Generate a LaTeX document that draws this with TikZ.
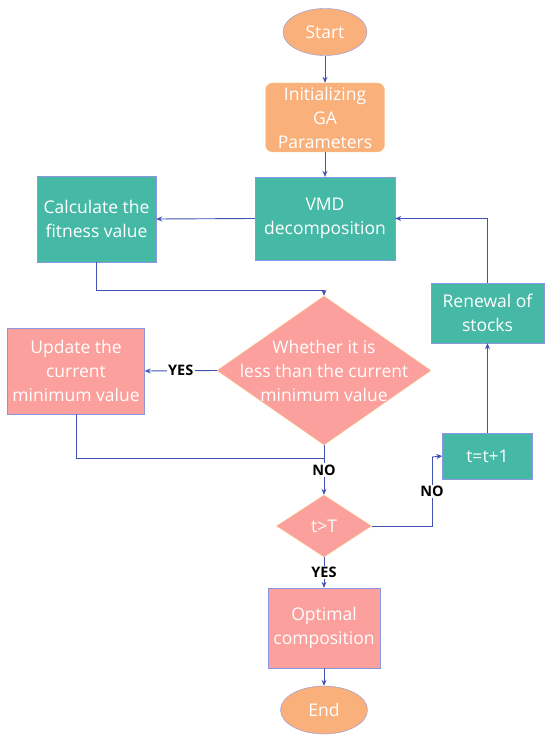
\documentclass[tikz,border=0pt]{standalone}
\usepackage{fontspec}
\setmainfont{Open Sans}
\usetikzlibrary{shapes.geometric,arrows.meta}
\definecolor{gaorange}{RGB}{249,176,122}
\definecolor{gateal}{RGB}{69,185,166}
\definecolor{gapink}{RGB}{251,160,156}
\definecolor{flowline}{RGB}{66,82,178}
\definecolor{boxedge}{RGB}{140,150,225}
\definecolor{warmedge}{RGB}{250,205,140}
\newcommand{\boxfont}{\fontsize{17.5}{24}\selectfont}

\begin{document}
\begin{tikzpicture}[x=1pt, y=-1pt,
  line/.style={draw=flowline, line width=0.9pt},
  arr/.style={line, -{Stealth[length=6pt,width=5pt]}},
  term/.style={ellipse, draw=boxedge, fill=gaorange, text=white, font=\boxfont, inner sep=0pt},
  initbox/.style={rectangle, rounded corners=7pt, draw=warmedge, fill=gaorange, text=white, align=center, font=\boxfont, inner sep=0pt},
  tealbox/.style={rectangle, draw=boxedge, fill=gateal, text=white, align=center, font=\boxfont, inner sep=0pt},
  pinkbox/.style={rectangle, draw=boxedge, fill=gapink, text=white, align=center, font=\boxfont, inner sep=0pt},
  decision/.style={diamond, draw=warmedge, fill=gapink, inner sep=0pt},
  inside/.style={text=white, align=center, font=\boxfont},
  tag/.style={fill=white, inner sep=1.5pt, font=\fontsize{14.5}{16}\selectfont\bfseries}
]
  \useasboundingbox (0,0) rectangle (550,743);

  % main column
  \node[term, minimum width=84pt, minimum height=47pt] (start) at (325,32) {Start};
  \node[initbox, minimum width=119pt, minimum height=69pt] (init) at (325,117.5) {Initializing\\GA\\Parameters};
  \node[tealbox, minimum width=140pt, minimum height=83pt] (vmd) at (325,218.5) {VMD\\decomposition};
  \node[tealbox, minimum width=119pt, minimum height=86pt] (calc) at (96.5,219) {Calculate the\\fitness value};

  \node[decision, minimum width=214pt, minimum height=149pt] (cmp) at (324,370.5) {};
  \node[inside] (cmptext) at (cmp) {Whether it is\\less than the current\\minimum value};
  \node[pinkbox, minimum width=137pt, minimum height=86pt] (upd) at (76,371) {Update the\\current\\minimum value};

  \node[decision, minimum width=95pt, minimum height=62pt] (chk) at (324,526) {};
  \node[inside] (chktext) at (chk) {t>T};
  \node[pinkbox, minimum width=112pt, minimum height=80pt] (opt) at (324,628) {Optimal\\composition};
  \node[term, minimum width=87pt, minimum height=48pt] (stop) at (324,710) {End};

  % right loop
  \node[tealbox, minimum width=113pt, minimum height=60pt] (renew) at (487.5,313) {Renewal of\\stocks};
  \node[tealbox, minimum width=90pt, minimum height=46pt] (tadd) at (487.5,456) {t=t+1};

  \coordinate (j1) at (324,290);
  \coordinate (j2) at (324,458);
  \coordinate (j3) at (432,457);

  \draw[arr] (start) -- (init);
  \draw[arr] (init) -- (vmd);
  \draw[arr] (vmd.west) -- (calc.east);
  \draw[line] (calc.south) |- (j1);
  \draw[arr] (j1) -- (cmp.north);
  \draw[arr] (cmp.west) -- node[tag]{YES} (upd.east);
  \draw[line] (upd.south) |- (j2);
  \draw[arr] (cmp.south) -- node[tag]{NO} (chk.north);
  \draw[arr] (chk.south) -- node[tag]{YES} (opt.north);
  \draw[arr] (opt) -- (stop);
  \draw[line] (chk.east) -| node[tag, pos=0.75]{NO} (j3);
  \draw[arr] (j3) -- (tadd.west);
  \draw[arr] (tadd) -- (renew);
  \draw[arr] (renew.north) |- (vmd.east);
\end{tikzpicture}
\end{document}
